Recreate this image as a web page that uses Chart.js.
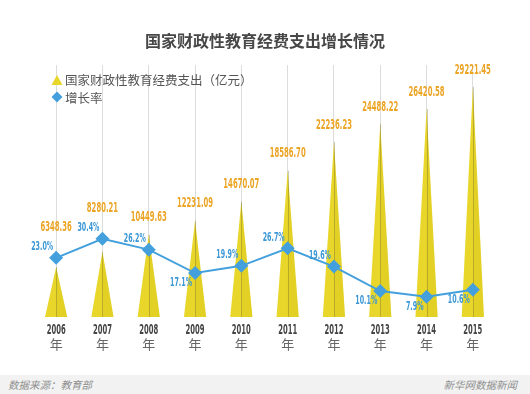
<!DOCTYPE html>
<html><head><meta charset="utf-8">
<script src="https://cdn.jsdelivr.net/npm/chart.js@4.4.0/dist/chart.umd.min.js"></script>
<style>
html,body{margin:0;padding:0;background:#fff;width:530px;height:394px;overflow:hidden}
#wrap{position:relative;width:530px;height:376px}
#footer{position:absolute;left:0;top:375px;width:530px;height:19px;background:#F2F2F2;font-family:"Noto Sans CJK SC",sans-serif;font-style:italic;font-size:10.5px;color:#8f8f8f;line-height:19px}
#footer .l{position:absolute;left:8px}
#footer .r{position:absolute;right:13px}
</style></head><body>
<div id="wrap"><canvas id="c" width="530" height="376"></canvas></div>
<div id="footer"><span class="l">数据来源：教育部</span><span class="r">新华网数据新闻</span></div>
<script>
const titleText = '国家财政性教育经费支出增长情况';
const years = ['2006','2007','2008','2009','2010','2011','2012','2013','2014','2015'];
const yearSuffix = '年';
const spending = [6348.36, 8280.21, 10449.63, 12231.09, 14670.07, 18586.70, 22236.23, 24488.22, 26420.58, 29221.45];
const growth = [23.0, 30.4, 26.2, 17.1, 19.9, 26.7, 19.6, 10.1, 7.9, 10.6];
const growthLabelSide = ['above','above','above','below','above','above','above','below','below','below'];
const seriesNames = ['国家财政性教育经费支出（亿元）', '增长率'];

const YELLOW = '#E8D62A';
const BLUE = '#44A0DC';
const ORANGE = '#EBA424';
const CJK = '"Noto Sans CJK SC", sans-serif';
const COND = '"DejaVu Sans Condensed", "DejaVu Sans", sans-serif';

function condText(ctx, text, x, y, align, font, targetSample, targetWidth){
  ctx.save();
  ctx.font = font;
  const sx = targetWidth / ctx.measureText(targetSample).width;
  ctx.translate(x, y);
  ctx.scale(sx, 1);
  ctx.textAlign = align;
  ctx.textBaseline = 'middle';
  ctx.fillText(text, 0, 0);
  ctx.restore();
}

const spikePlugin = {
  id: 'spikes',
  afterDatasetDraw(chart, args){
    if (args.index !== 0) return;
    const ctx = chart.ctx;
    args.meta.data.forEach((bar) => {
      const p = bar.getProps(['x','y','base','width'], true);
      const hw = p.width / 2;
      ctx.save();
      ctx.beginPath();
      ctx.moveTo(p.x - hw, p.base); ctx.lineTo(p.x, p.y); ctx.lineTo(p.x + hw, p.base); ctx.closePath();
      ctx.fillStyle = YELLOW; ctx.fill();
      ctx.beginPath();
      ctx.moveTo(p.x, p.base); ctx.lineTo(p.x, p.y); ctx.lineTo(p.x + hw, p.base); ctx.closePath();
      ctx.fillStyle = 'rgba(190,160,0,0.10)'; ctx.fill();
      ctx.beginPath();
      ctx.moveTo(Math.round(p.x) + 0.5, p.y); ctx.lineTo(Math.round(p.x) + 0.5, p.base);
      ctx.strokeStyle = 'rgba(110,100,50,0.35)'; ctx.lineWidth = 1; ctx.stroke();
      ctx.restore();
    });
  }
};

const textPlugin = {
  id: 'texts',
  afterDatasetsDraw(chart){
    const ctx = chart.ctx;
    const barMeta = chart.getDatasetMeta(0);
    const lineMeta = chart.getDatasetMeta(1);
    const xs = chart.scales.x;
    // title
    ctx.save();
    ctx.font = 'bold 16px ' + CJK;
    ctx.fillStyle = '#474747';
    ctx.textAlign = 'center'; ctx.textBaseline = 'middle';
    ctx.fillText(titleText, 265, 41);
    ctx.restore();
    // legend
    ctx.save();
    ctx.fillStyle = YELLOW;
    ctx.beginPath(); ctx.moveTo(51.5, 85); ctx.lineTo(57, 75); ctx.lineTo(62.5, 85); ctx.closePath(); ctx.fill();
    ctx.fillStyle = BLUE;
    ctx.beginPath(); ctx.moveTo(57, 91.5); ctx.lineTo(62.5, 97); ctx.lineTo(57, 102.5); ctx.lineTo(51.5, 97); ctx.closePath(); ctx.fill();
    ctx.font = '12.5px ' + CJK;
    ctx.fillStyle = '#555';
    ctx.textAlign = 'left'; ctx.textBaseline = 'middle';
    ctx.fillText(seriesNames[0], 65, 80);
    ctx.fillText(seriesNames[1], 65, 98);
    ctx.restore();
    // value labels
    barMeta.data.forEach((bar, i) => {
      const mk = lineMeta.data[i];
      const y = Math.min(bar.y - 17, mk.y - 30);
      ctx.fillStyle = ORANGE;
      condText(ctx, spending[i].toFixed(2), bar.x, y, 'center', 'bold 14px ' + COND, '29221.45', 36);
    });
    // growth labels
    lineMeta.data.forEach((pt, i) => {
      const y = growthLabelSide[i] === 'above' ? pt.y - 11 : pt.y + 10;
      ctx.fillStyle = '#3B97D6';
      condText(ctx, growth[i].toFixed(1) + '%', pt.x - 3, y, 'right', 'bold 13px ' + COND, '30.4%', 22);
    });
    // x labels
    years.forEach((yr, i) => {
      const x = xs.getPixelForValue(i);
      ctx.fillStyle = '#444';
      condText(ctx, yr, x, 330, 'center', 'bold 14px ' + COND, '2006', 19);
      ctx.save();
      ctx.font = '13px ' + CJK;
      ctx.fillStyle = '#666';
      ctx.textAlign = 'center'; ctx.textBaseline = 'middle';
      ctx.fillText(yearSuffix, x, 344);
      ctx.restore();
    });
  }
};

new Chart(document.getElementById('c'), {
  type: 'bar',
  data: {
    labels: years,
    datasets: [
      {type: 'bar', label: seriesNames[0], data: spending, yAxisID: 'y',
       backgroundColor: 'rgba(0,0,0,0)', borderWidth: 0, barPercentage: 0.48, categoryPercentage: 1, order: 2},
      {type: 'line', label: seriesNames[1], data: growth, yAxisID: 'y1',
       borderColor: BLUE, borderWidth: 2, tension: 0, fill: false,
       pointStyle: 'rectRot', pointRadius: 7, pointBackgroundColor: BLUE, pointBorderWidth: 0, order: 1}
    ]
  },
  options: {
    responsive: false,
    animation: false,
    layout: {padding: {top: 65, left: 33, right: 34, bottom: 59}},
    plugins: {legend: {display: false}, tooltip: {enabled: false}, title: {display: false}},
    scales: {
      x: {offset: true, grid: {offset: false, color: '#DCDCDC', lineWidth: 1, drawTicks: false},
          ticks: {display: false}, border: {display: false}},
      y: {display: false, min: 0, max: 32000},
      y1: {display: false, min: 0, max: 98}
    }
  },
  plugins: [spikePlugin, textPlugin]
});
</script>
</body></html>
